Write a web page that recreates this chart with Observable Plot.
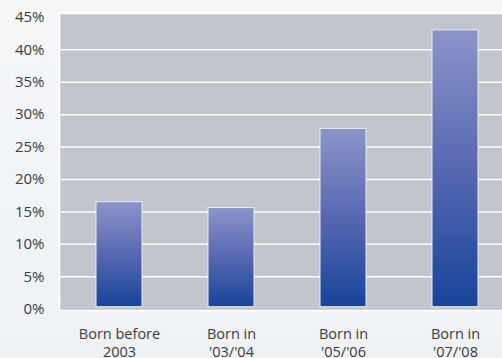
<!DOCTYPE html>
<html>
<head>
<meta charset="utf-8">
<script src="https://cdn.jsdelivr.net/npm/d3@7"></script>
<script src="https://cdn.jsdelivr.net/npm/@observablehq/plot@0.6"></script>
<style>
  html, body { margin: 0; padding: 0; }
  body {
    width: 502px; height: 358px; overflow: hidden;
    background: linear-gradient(180deg, #f5f7f9 0%, #eef2f5 100%);
    font-family: "Open Sans", "Noto Sans", sans-serif;
  }
  #chart svg { display: block; }
</style>
</head>
<body>
<div id="chart"></div>
<script>
const categories = ["Born before\n2003", "Born in\n'03/'04", "Born in\n'05/'06", "Born in\n'07/'08"];
const shares = [16.5, 15.6, 27.8, 43.0];
const yTicks = [0, 5, 10, 15, 20, 25, 30, 35, 40, 45];
const gridTicks = [5, 10, 15, 20, 25, 30, 35, 40];

const data = categories.map((c, i) => ({category: c, share: shares[i]}));

const chart = Plot.plot({
  width: 502,
  height: 358,
  marginLeft: 59,
  marginRight: -1,
  marginTop: 13,
  marginBottom: 48,
  style: {background: "transparent", fontFamily: "'Open Sans', 'Noto Sans', sans-serif", fontSize: "14.5px", color: "#3c3c3c"},
  x: {domain: categories, range: [60, 513], paddingInner: 0.59, paddingOuter: 0.3, label: null},
  y: {domain: [0, 45], range: [308.7, 16.9], label: null},
  marks: [
    Plot.frame({fill: "#c3c5cc", stroke: "#ffffff", strokeWidth: 1.5}),
    Plot.ruleY(gridTicks, {stroke: "#ffffff", strokeWidth: 1.5}),
    Plot.barY(data, {x: "category", y: "share", fill: "url(#barGrad)", stroke: "#e9ebf3", strokeWidth: 1, insetBottom: 2}),
    Plot.axisY({ticks: yTicks, tickSize: 0, tickPadding: 15, tickFormat: d => d + "%", fill: "#3c3c3c", fontSize: 15}),
    Plot.axisX({tickSize: 0, tickPadding: 16, fill: "#3c3c3c", fontSize: 14.5, lineHeight: 1.25})
  ]
});

const svg = d3.select(chart);
const defs = svg.insert("defs", ":first-child");
const grad = defs.append("linearGradient").attr("id", "barGrad").attr("x1", 0).attr("y1", 0).attr("x2", 0).attr("y2", 1);
grad.append("stop").attr("offset", "0%").attr("stop-color", "#8c94ca");
grad.append("stop").attr("offset", "45%").attr("stop-color", "#5d6cb3");
grad.append("stop").attr("offset", "100%").attr("stop-color", "#17449a");

document.getElementById("chart").appendChild(chart);
</script>
</body>
</html>
